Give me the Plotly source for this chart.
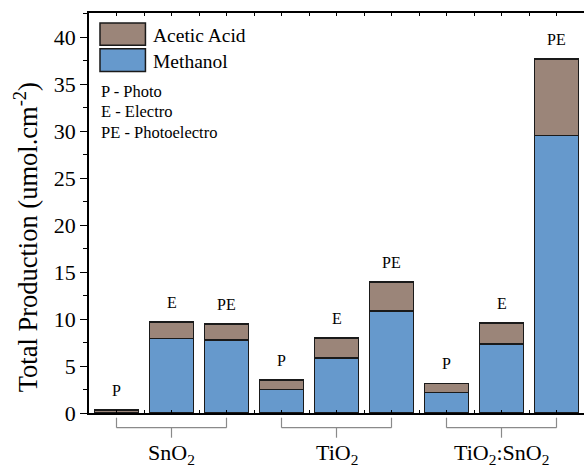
import plotly.graph_objects as go

# ---- data ----
groups = ["SnO<sub>2</sub>", "TiO<sub>2</sub>", "TiO<sub>2</sub>:SnO<sub>2</sub>"]
modes = ["P", "E", "PE", "P", "E", "PE", "P", "E", "PE"]
methanol = [0.0, 7.94, 7.77, 2.48, 5.85, 10.85, 2.16, 7.34, 29.53]
acetic = [0.30, 1.77, 1.70, 1.06, 2.16, 3.12, 0.99, 2.23, 8.17]
legend_notes = ["P - Photo", "E - Electro", "PE - Photoelectro"]

x = list(range(len(modes)))
totals = [m + a for m, a in zip(methanol, acetic)]

BLUE = "#6699CC"
BROWN = "#9B8579"
EDGE = "#1a1a1a"
FONT = "Liberation Serif"

fig = go.Figure()
fig.add_trace(go.Bar(x=x, y=methanol, name="Methanol", width=0.8,
                     marker=dict(color=BLUE, line=dict(color=EDGE, width=1.5))))
fig.add_trace(go.Bar(x=x, y=acetic, name="Acetic Acid", width=0.8,
                     marker=dict(color=BROWN, line=dict(color=EDGE, width=1.5))))

W, H = 584, 468
L, R, T, B = 88.5, 0, 13.3, 54.7
pw, ph = W - L - R, H - T - B

def px(xp):
    return (xp - L) / pw

def py(yp):
    return (H - B - yp) / ph

annotations = []
# labels above bars
for xi, tot, md in zip(x, totals, modes):
    annotations.append(dict(x=xi, y=tot, text=md, showarrow=False, xref="x", yref="y",
                            yanchor="bottom", yshift=9,
                            font=dict(family=FONT, size=16, color="black")))

shapes = []
# group brackets
for gi, g in enumerate(groups):
    a, b = gi * 3, gi * 3 + 2
    c = (a + b) / 2
    line = dict(color="#8a8a8a", width=1.2)
    shapes.append(dict(type="line", xref="x", yref="paper", x0=a, x1=b, y0=py(428), y1=py(428), line=line))
    shapes.append(dict(type="line", xref="x", yref="paper", x0=a, x1=a, y0=py(428), y1=py(418), line=line))
    shapes.append(dict(type="line", xref="x", yref="paper", x0=b, x1=b, y0=py(428), y1=py(418), line=line))
    shapes.append(dict(type="line", xref="x", yref="paper", x0=c, x1=c, y0=py(428), y1=py(438), line=line))
    annotations.append(dict(x=c, y=py(438), xref="x", yref="paper", text=g, showarrow=False,
                            yanchor="top", font=dict(family=FONT, size=22, color="black")))

# legend boxes
leg = [("Acetic Acid", BROWN, 23.3, 45.5), ("Methanol", BLUE, 49.0, 71.7)]
for name, col, y0, y1 in leg:
    shapes.append(dict(type="rect", xref="paper", yref="paper", x0=px(99.5), x1=px(145),
                       y0=py(y1), y1=py(y0), fillcolor=col, line=dict(color=EDGE, width=1.5)))
    annotations.append(dict(x=px(151), y=py((y0 + y1) / 2 + 1), xref="paper", yref="paper",
                            text=name, showarrow=False, xanchor="left", yanchor="middle",
                            font=dict(family=FONT, size=19.5, color="black")))
for note, yc in zip(legend_notes, [92, 112, 133]):
    annotations.append(dict(x=px(99), y=py(yc), xref="paper", yref="paper", text=note,
                            showarrow=False, xanchor="left", yanchor="middle",
                            font=dict(family=FONT, size=16.5, color="black")))

# y-axis title
annotations.append(dict(x=px(25), y=py(238), xref="paper", yref="paper",
                        text="Total Production (umol.cm<sup>-2</sup>)", textangle=-90,
                        showarrow=False, xanchor="center", yanchor="middle",
                        font=dict(family=FONT, size=26.5, color="black")))

fig.update_layout(
    width=W, height=H,
    margin=dict(l=L, r=R, t=T, b=B, pad=0),
    barmode="stack", showlegend=False,
    plot_bgcolor="white", paper_bgcolor="white",
    font=dict(family=FONT, color="black"),
    shapes=shapes, annotations=annotations,
    xaxis=dict(range=[-0.5, 8.5], tickmode="linear", tick0=0, dtick=0.5,
               ticks="inside", ticklen=3, tickcolor="black", showticklabels=False,
               showline=True, linecolor="black", linewidth=1.5, mirror="ticks",
               showgrid=False, zeroline=False, fixedrange=True),
    yaxis=dict(range=[0, 42.6], tickmode="linear", tick0=0, dtick=5,
               ticks="outside", ticklen=7, tickwidth=1.2, tickcolor="black",
               minor=dict(dtick=2.5, tick0=0, ticks="outside", ticklen=4, tickcolor="black"),
               tickfont=dict(family=FONT, size=22, color="black"),
               showline=True, linecolor="black", linewidth=1.5,
               showgrid=False, zeroline=False, fixedrange=True),
)

fig.write_html("out.html", config={"displayModeBar": False})

# remove the default page margin so the figure sits at the window's top-left corner
with open("out.html", "r", encoding="utf-8") as f:
    html = f.read()
html = html.replace("<body>", '<body style="margin:0;padding:0;overflow:hidden">', 1)
with open("out.html", "w", encoding="utf-8") as f:
    f.write(html)
